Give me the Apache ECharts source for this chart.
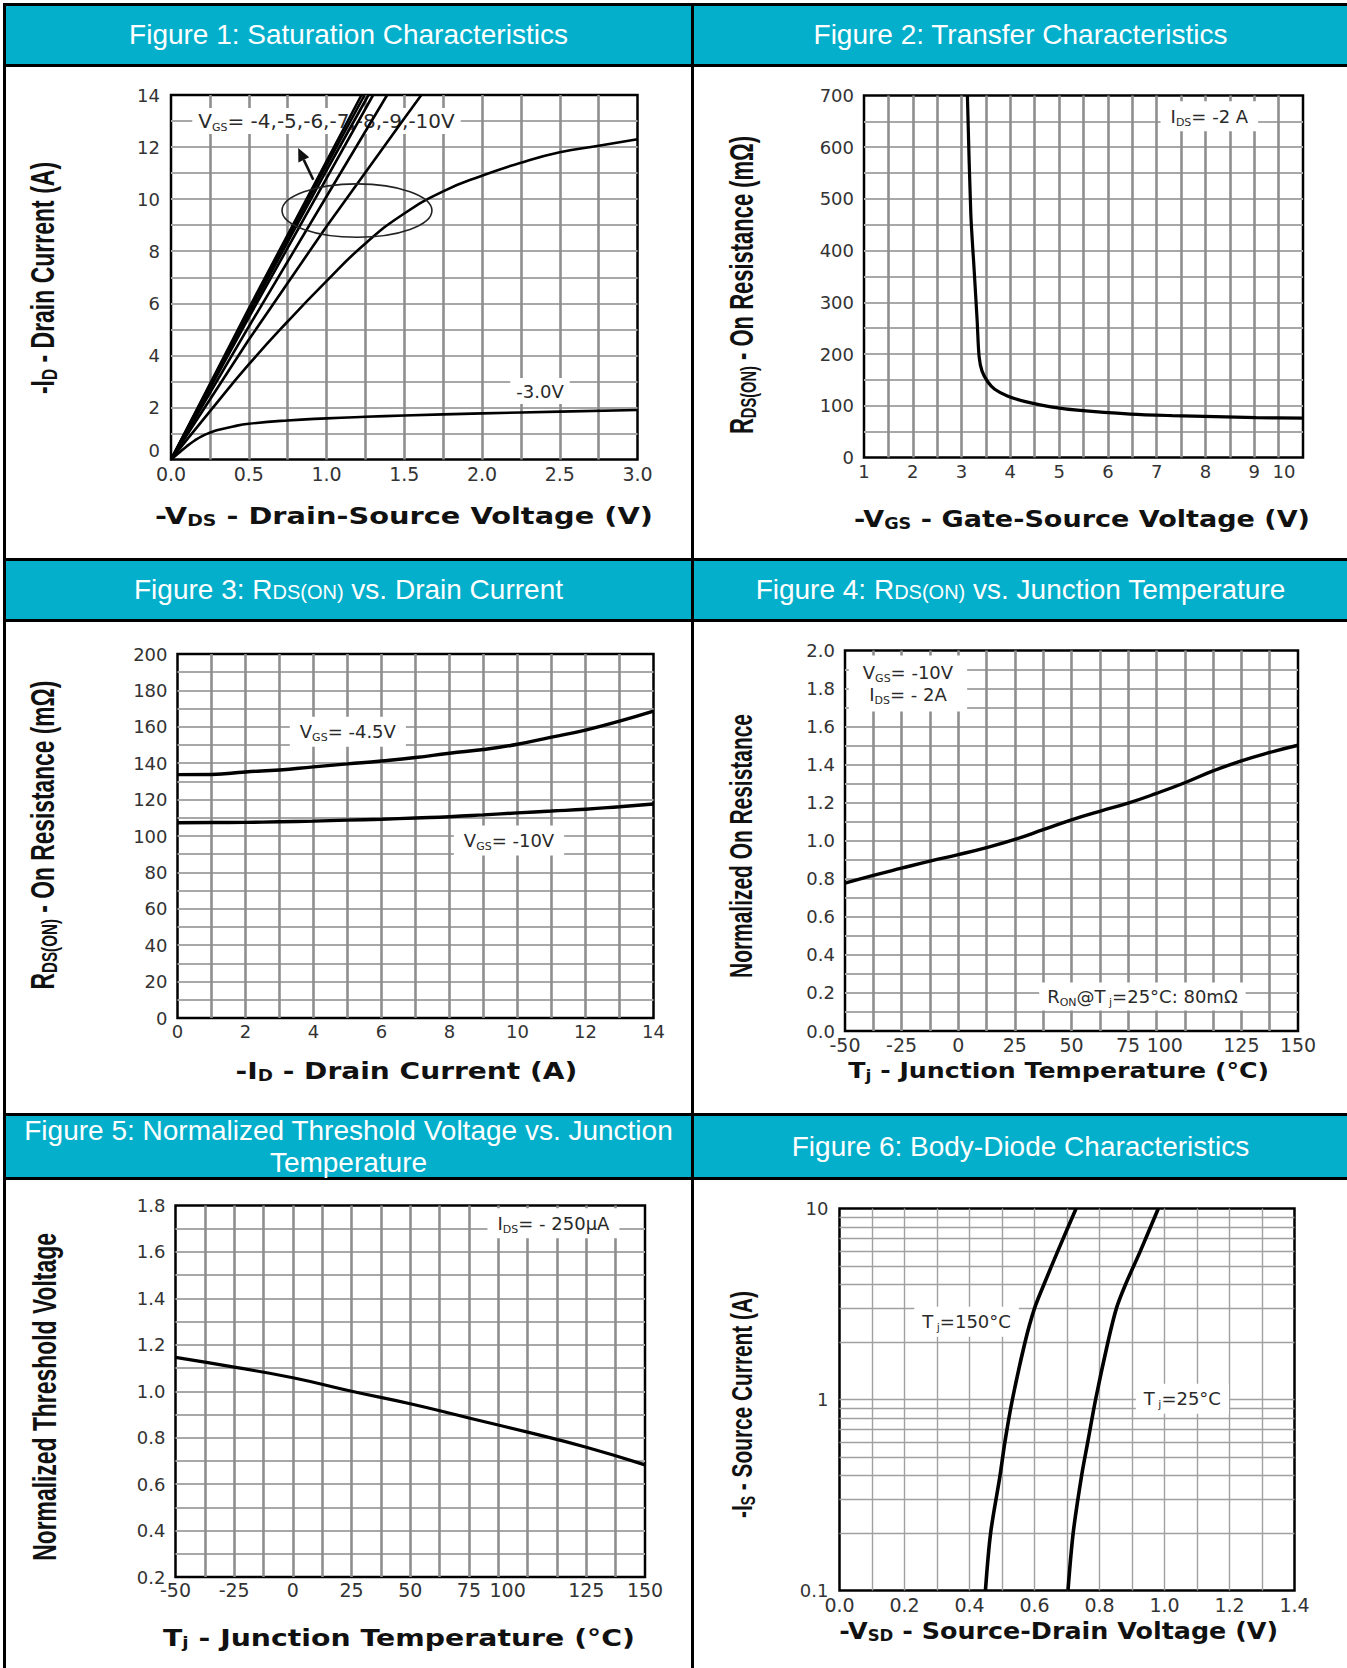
<!DOCTYPE html>
<html><head><meta charset="utf-8">
<script src="https://cdn.jsdelivr.net/npm/echarts@6/dist/echarts.min.js"></script>
<style>
html,body{margin:0;padding:0;background:#fff;}
#page{position:relative;width:1347px;height:1668px;overflow:hidden;background:#fff;}
#chart{position:absolute;left:0;top:0;width:1347px;height:1668px;}
.hdr{position:absolute;background:#03AFCB;color:#fff;font-family:'Liberation Sans',Arial,sans-serif;font-size:28px;display:flex;align-items:center;justify-content:center;text-align:center;line-height:32px;white-space:nowrap;}
.hdr .sub{font-size:20px;position:relative;top:2px;}
.bk{position:absolute;background:#000;}
</style></head>
<body><div id="page">
<div id="chart"></div>
<div class="bk" style="left:3px;top:3px;width:1344px;height:3px"></div>
<div class="bk" style="left:3px;top:3px;width:3px;height:1665px"></div>
<div class="bk" style="left:691px;top:3px;width:3px;height:1665px"></div>
<div class="bk" style="left:3px;top:64px;width:1344px;height:3px"></div>
<div class="bk" style="left:3px;top:558px;width:1344px;height:3px"></div>
<div class="bk" style="left:3px;top:619px;width:1344px;height:3px"></div>
<div class="bk" style="left:3px;top:1113px;width:1344px;height:3px"></div>
<div class="bk" style="left:3px;top:1177px;width:1344px;height:3px"></div>
<div class="hdr" style="left:6px;top:6px;width:685px;height:58px">Figure 1: Saturation Characteristics</div>
<div class="hdr" style="left:694px;top:6px;width:653px;height:58px">Figure 2: Transfer Characteristics</div>
<div class="hdr" style="left:6px;top:561px;width:685px;height:58px">Figure 3: R<span class="sub">DS(ON)</span>&nbsp;vs. Drain Current</div>
<div class="hdr" style="left:694px;top:561px;width:653px;height:58px">Figure 4: R<span class="sub">DS(ON)</span>&nbsp;vs. Junction Temperature</div>
<div class="hdr" style="left:6px;top:1116px;width:685px;height:61px">Figure 5: Normalized Threshold Voltage vs. Junction<br>Temperature</div>
<div class="hdr" style="left:694px;top:1116px;width:653px;height:61px">Figure 6: Body-Diode Characteristics</div>
</div>
<script>
// ---------------- DATA ----------------
// Figure 1: Saturation characteristics (-VDS in V, -ID in A)
const fig1XLabels = ['0.0','0.5','1.0','1.5','2.0','2.5','3.0'];
const fig1YLabels = ['0','2','4','6','8','10','12','14'];
const fig1VdsM3 = [0,0.05,0.1,0.15,0.2,0.25,0.3,0.4,0.5,0.75,1.0,1.25,1.5,2.0,2.5,3.0];
const fig1IdM3  = [0,0.25,0.5,0.72,0.9,1.03,1.13,1.27,1.37,1.5,1.58,1.64,1.69,1.77,1.84,1.9];
const fig1VdsM4 = [0,0.25,0.5,0.75,1.0,1.25,1.5,1.75,2.0,2.25,2.5,2.75,3.0];
const fig1IdM4  = [0,1.85,3.65,5.3,6.85,8.3,9.45,10.3,10.9,11.4,11.8,12.05,12.3];
const fig1VdsM5 = [0,0.5,1.0,1.5,1.61];
const fig1IdM5  = [0,4.6,8.95,13.1,14];
const fig1VdsM6 = [0,0.5,1.0,1.39];
const fig1IdM6  = [0,5.1,10.1,14];
const fig1VdsM7 = [0,0.5,1.0,1.3];
const fig1IdM7  = [0,5.45,10.8,14];
const fig1VdsM8 = [0,0.5,1.0,1.27];
const fig1IdM8  = [0,5.6,11.1,14];
const fig1VdsM9 = [0,0.5,1.0,1.245];
const fig1IdM9  = [0,5.7,11.3,14];
const fig1VdsM10 = [0,0.5,1.0,1.225];
const fig1IdM10  = [0,5.8,11.45,14];

// Figure 2: Transfer characteristics (-VGS in V, RDS(ON) in mOhm)
const fig2XLabels = ['1','2','3','4','5','6','7','8','9','10'];
const fig2YLabels = ['0','100','200','300','400','500','600','700'];
const fig2Vgs = [3.12,3.19,3.26,3.32,3.36,3.42,3.54,3.68,3.94,4.31,4.83,5.43,6.46,7.32,8.2,9.04,10.0];
const fig2R   = [700,471,360,264,195,167,146,132,119,108,98,91,84,81,79,77,76];

// Figure 3: RDS(ON) vs drain current
const fig3XLabels = ['0','2','4','6','8','10','12','14'];
const fig3YLabels = ['0','20','40','60','80','100','120','140','160','180','200'];
const fig3Id    = [0,1,2,3,4,5,6,7,8,9,10,11,12,13,14];
const fig3R45   = [133.7,133.8,135.2,136.3,138,139.6,141.2,143.1,145.5,147.5,150.4,154.3,158.2,163.1,168.6];
const fig3R10   = [107.3,107.4,107.5,107.8,108.2,108.7,109.2,109.9,110.6,111.6,112.7,113.7,114.7,116.1,117.6];

// Figure 4: normalized RDS(ON) vs junction temperature
const fig4XLabels = ['-50','-25','0','25','50','75','100','125','150'];
const fig4YLabels = ['0.0','0.2','0.4','0.6','0.8','1.0','1.2','1.4','1.6','1.8','2.0'];
const fig4Tj = [-50,-37.5,-25,-12.5,0,12.5,25,37.5,50,62.5,75,87.5,100,112.5,125,137.5,150];
const fig4Rn = [0.777,0.818,0.856,0.893,0.927,0.964,1.007,1.058,1.11,1.155,1.198,1.249,1.305,1.367,1.42,1.464,1.502];

// Figure 5: normalized threshold voltage vs junction temperature
const fig5XLabels = ['-50','-25','0','25','50','75','100','125','150'];
const fig5YLabels = ['0.2','0.4','0.6','0.8','1.0','1.2','1.4','1.6','1.8'];
const fig5Tj  = [-50,-25,0,25,50,75,100,125,150];
const fig5Vth = [1.146,1.104,1.058,1.0,0.946,0.885,0.824,0.759,0.683];

// Figure 6: body diode (-VSD in V, -IS in A, log)
const fig6XLabels = ['0.0','0.2','0.4','0.6','0.8','1.0','1.2','1.4'];
const fig6YLabels = ['0.1','1','10'];
const fig6MinorY  = [0.2,0.3,0.4,0.5,0.6,0.7,0.8,0.9,2,3,4,5,6,7,8,9];
const fig6Is      = [0.1,0.2,0.4,0.6,1.0,2.0,3.0,4.0,6.0,10];
const fig6Vsd150  = [0.449,0.465,0.494,0.509,0.532,0.571,0.600,0.629,0.672,0.728];
const fig6Vsd25   = [0.703,0.719,0.745,0.764,0.788,0.826,0.852,0.880,0.926,0.981];

// Axis titles: [text, isSubscript] pieces
const fig1XTitle = [['-V',0],['DS',1],[' - Drain-Source Voltage (V)',0]];
const fig1YTitle = [['-I',0],['D',1],[' - Drain Current (A)',0]];
const fig2XTitle = [['-V',0],['GS',1],[' - Gate-Source Voltage (V)',0]];
const fig2YTitle = [['R',0],['DS(ON)',1],[' - On Resistance (mΩ)',0]];
const fig3XTitle = [['-I',0],['D',1],[' - Drain Current (A)',0]];
const fig3YTitle = [['R',0],['DS(ON)',1],[' - On Resistance (mΩ)',0]];
const fig4XTitle = [['T',0],['j',1],[' - Junction Temperature (°C)',0]];
const fig4YTitle = [['Normalized On Resistance',0]];
const fig5XTitle = [['T',0],['j',1],[' - Junction Temperature (°C)',0]];
const fig5YTitle = [['Normalized Threshold Voltage',0]];
const fig6XTitle = [['-V',0],['SD',1],[' - Source-Drain Voltage (V)',0]];
const fig6YTitle = [['-I',0],['S',1],[' - Source Current (A)',0]];

// ---------------- STYLE / LAYOUT ----------------
const TICK_FONT = "'DejaVu Sans', sans-serif";
const XT_FONT = "'DejaVu Sans', sans-serif";
const YT_FONT = "'Liberation Sans', Arial, sans-serif";
const GV = {color:'#8e8e8e', width:2.6};
const GH = {color:'#a8a8a8', width:2};
const G6 = {color:'#a0a0a0', width:1.4};

// title layout: centre x, centre y, overall length, font size
const TITLE_LAYOUT = [
  {t:fig1XTitle, cx:404,   cy:516,    len:498, size:23, rot:false},
  {t:fig2XTitle, cx:1082,  cy:519,    len:456, size:23, rot:false},
  {t:fig3XTitle, cx:406.5, cy:1071,   len:342, size:23, rot:false},
  {t:fig4XTitle, cx:1058.7,cy:1071,   len:421, size:22, rot:false},
  {t:fig5XTitle, cx:399,   cy:1637.5, len:472, size:23, rot:false},
  {t:fig6XTitle, cx:1058.7,cy:1631,   len:439, size:23, rot:false},
  {t:fig1YTitle, cx:42.5,  cy:278,    len:232, size:33, rot:true},
  {t:fig2YTitle, cx:741.6, cy:285,    len:298, size:33, rot:true},
  {t:fig3YTitle, cx:42.5,  cy:835,    len:309, size:33, rot:true},
  {t:fig4YTitle, cx:741.6, cy:846,    len:264, size:31, rot:true},
  {t:fig5YTitle, cx:44.7,  cy:1397,   len:328, size:33, rot:true},
  {t:fig6YTitle, cx:741.6, cy:1404.5, len:227, size:30, rot:true}
];

function annRich(size) {
  return {
    t:{fontFamily:TICK_FONT, fontSize:size, color:'#2a2a2a', lineHeight:22},
    s:{fontFamily:TICK_FONT, fontSize:11, color:'#2a2a2a', lineHeight:10, padding:[12,0,0,0]}
  };
}
function shiftRich(size, pad) { return {sh:{fontFamily:TICK_FONT, fontSize:size, color:'#333', padding:[0,pad,0,0]}}; }
function shifted(labels, which) { return labels.map(function (s) { return s === which ? '{sh|' + s + '}' : s; }); }

function lbl(labels, size, margin, extra) {
  return Object.assign({
    fontFamily: TICK_FONT, fontSize: size, color:'#333', margin: margin,
    formatter: function (v, i) { return labels[i] !== undefined ? labels[i] : ''; }
  }, extra || {});
}
function axis(gi, o) {
  return Object.assign({
    gridIndex: gi, type:'value',
    axisLine:{show:false}, axisTick:{show:false},
    splitLine:{show:true, showMinLine:false, showMaxLine:false, lineStyle:o.grid},
    minorTick:{show:false, splitNumber:2},
    minorSplitLine:{show:true, lineStyle:o.grid}
  }, o.opt);
}
function pairs(xs, ys) { return xs.map(function (x, k) { return [x, ys[k]]; }); }
function line(gi, xs, ys, w, smooth, extra) {
  return Object.assign({
    type:'line', xAxisIndex:gi, yAxisIndex:gi, data:pairs(xs, ys),
    showSymbol:false, symbol:'none', smooth:smooth,
    lineStyle:{color:'#000', width:w}, itemStyle:{color:'#000'},
    silent:true, animation:false, z:2
  }, extra || {});
}
function note(coord, text, pad, size) {
  return {coord:coord, value:0, symbol:'rect', symbolSize:1, itemStyle:{color:'rgba(0,0,0,0)'},
    label:{show:true, position:'inside', formatter:text, rich:annRich(size || 18), backgroundColor:'#fff', padding:pad || [2,6], lineHeight:22}};
}
function marks(data) { return {z:1, silent:true, animation:false, data:data}; }

const grids = [
  {left:171, top:95, width:466.5, height:364.5},
  {left:864, top:95.5, width:439, height:362},
  {left:177.5, top:654, width:476, height:364},
  {left:845, top:650.5, width:453, height:380.5},
  {left:175.5, top:1205.5, width:469.5, height:371.5},
  {left:839.5, top:1208.5, width:455, height:382}
].map(function (g) { return Object.assign({show:true, borderColor:'#000', borderWidth:2.5, containLabel:false, outerBoundsMode:'none'}, g); });

const xAxes = [
  axis(0, {grid:GV, opt:{min:0, max:3, interval:0.5, axisLabel:lbl(fig1XLabels,19,5)}}),
  axis(1, {grid:GV, opt:{min:1, max:10, interval:1, axisLabel:lbl(shifted(fig2XLabels,'10'),18,5,{rich:shiftRich(18,38)})}}),
  axis(2, {grid:GV, opt:{min:0, max:14, interval:2, axisLabel:lbl(fig3XLabels,18,4)}}),
  axis(3, {grid:GV, opt:{min:-50, max:150, interval:25, axisLabel:lbl(shifted(fig4XLabels,'100'),19,4,{rich:shiftRich(19,40)})}}),
  axis(4, {grid:GV, opt:{min:-50, max:150, interval:25, axisLabel:lbl(shifted(fig5XLabels,'100'),19,3,{rich:shiftRich(19,40)})}}),
  axis(5, {grid:G6, opt:{min:0, max:1.4, interval:0.2, axisLabel:lbl(fig6XLabels,19,5)}})
];
const yAxes = [
  axis(0, {grid:GH, opt:{min:0, max:14, interval:2, axisLabel:lbl(fig1YLabels,18,11,{verticalAlignMinLabel:'bottom'})}}),
  axis(1, {grid:GH, opt:{min:0, max:700, interval:100, axisLabel:lbl(fig2YLabels,18,10)}}),
  axis(2, {grid:GH, opt:{min:0, max:200, interval:20, axisLabel:lbl(fig3YLabels,18,10)}}),
  axis(3, {grid:GH, opt:{min:0, max:2, interval:0.2, axisLabel:lbl(fig4YLabels,18,10)}}),
  axis(4, {grid:GH, opt:{min:0.2, max:1.8, interval:0.2, axisLabel:lbl(fig5YLabels,18,10)}}),
  {gridIndex:5, type:'log', logBase:10, min:0.1, max:10,
    axisLine:{show:false}, axisTick:{show:false},
    splitLine:{show:true, showMinLine:false, showMaxLine:false, lineStyle:G6},
    axisLabel:lbl(fig6YLabels,18,11)}
];

const series = [
  line(0, fig1VdsM3, fig1IdM3, 2.6, true, {markPoint:marks([
    note([1.0, 13.0], '{t|V}{s|GS}{t|= -4,-5,-6,-7,-8,-9,-10V}', [2,6], 20),
    note([2.373, 2.63], '{t|-3.0V}', [2,6], 18)
  ])}),
  line(0, fig1VdsM4, fig1IdM4, 2.6, true),
  line(0, fig1VdsM5, fig1IdM5, 2.6, false),
  line(0, fig1VdsM6, fig1IdM6, 2.6, false),
  line(0, fig1VdsM7, fig1IdM7, 2.6, false),
  line(0, fig1VdsM8, fig1IdM8, 2.6, false),
  line(0, fig1VdsM9, fig1IdM9, 2.6, false),
  line(0, fig1VdsM10, fig1IdM10, 2.6, false),
  line(1, fig2Vgs, fig2R, 3.2, 0.3, {markPoint:marks([
    note([8.08, 660], '{t|I}{s|DS}{t|= -2 A}', [4,10])
  ])}),
  line(2, fig3Id, fig3R45, 3.4, true, {markPoint:marks([
    note([5.01, 157.3], '{t|V}{s|GS}{t|= -4.5V}', [4,10]),
    note([9.75, 97.5], '{t|V}{s|GS}{t|= -10V}', [4,10])
  ])}),
  line(2, fig3Id, fig3R10, 3.4, true),
  line(3, fig4Tj, fig4Rn, 3.4, true, {markPoint:marks([
    note([-22.2, 1.826], '{t|V}{s|GS}{t|= -10V}\n{t|I}{s|DS}{t|= - 2A}', [6,14]),
    note([81.3, 0.181], '{t|R}{s|ON}{t|@T}{s| j}{t|=25°C: 80mΩ}', [3,8])
  ])}),
  line(4, fig5Tj, fig5Vth, 3.2, true, {markPoint:marks([
    note([111, 1.724], '{t|I}{s|DS}{t|= - 250µA}', [4,10])
  ])}),
  line(5, fig6Vsd150, fig6Is, 3.6, 0.3, {
    markLine:{silent:true, z:1, animation:false, symbol:['none','none'], label:{show:false},
      lineStyle:{color:G6.color, width:G6.width, type:'solid'},
      data:fig6MinorY.map(function (v) { return {yAxis:v}; })},
    markPoint:marks([
      note([0.391, 2.55], '{t|T}{s| j}{t|=150°C}', [4,8]),
      note([1.055, 1.01], '{t|T}{s| j}{t|=25°C}', [4,8])
    ])}),
  line(5, fig6Vsd25, fig6Is, 3.6, 0.3)
];

const chart = echarts.init(document.getElementById('chart'), null, {renderer:'svg', width:1347, height:1668});
chart.setOption({animation:false, backgroundColor:'transparent', grid:grids, xAxis:xAxes, yAxis:yAxes, series:series});

// ---- axis titles as text elements, fitted to the reference lengths ----
const mctx = document.createElement('canvas').getContext('2d');
function titleEl(L) {
  const family = L.rot ? YT_FONT : XT_FONT;
  const size = L.size, sub = Math.round(size * 0.66);
  let w = 0;
  L.t.forEach(function (p) { mctx.font = 'bold ' + (p[1] ? sub : size) + 'px ' + family; w += mctx.measureText(p[0]).width; });
  const text = L.t.map(function (p) { return '{' + (p[1] ? 's' : 'a') + '|' + p[0] + '}'; }).join('');
  return {type:'text', silent:true, z:10, x:L.cx, y:L.cy, rotation: L.rot ? Math.PI / 2 : 0, scaleX: L.len / w, scaleY: 1,
    style:{text:text, align:'center', verticalAlign:'middle',
      rich:{a:{fontFamily:family, fontWeight:'bold', fontSize:size, fill:'#111', lineHeight:size + 4},
            s:{fontFamily:family, fontWeight:'bold', fontSize:sub, fill:'#111', lineHeight:sub, padding:[Math.round(size * 0.42),0,0,0]}}}};
}
const titleEls = TITLE_LAYOUT.map(titleEl);

// Figure 1 annotation shapes (ellipse round the VGS curves + arrow), placed in data coordinates
const fig1Ellipse = {cx:1.196, cy:9.56, rx:0.482, ry:1.025};
const fig1Arrow = {from:[0.915, 10.745], to:[0.818, 11.96]};
const f = {xAxisIndex:0, yAxisIndex:0};
const c0 = chart.convertToPixel(f, [fig1Ellipse.cx, fig1Ellipse.cy]);
const c1 = chart.convertToPixel(f, [fig1Ellipse.cx + fig1Ellipse.rx, fig1Ellipse.cy + fig1Ellipse.ry]);
const a0 = chart.convertToPixel(f, fig1Arrow.from);
const a1 = chart.convertToPixel(f, fig1Arrow.to);
const dx = a1[0]-a0[0], dy = a1[1]-a0[1], L0 = Math.sqrt(dx*dx+dy*dy), ux = dx/L0, uy = dy/L0;
const hl = 13, hw = 6;
const base = [a1[0]-ux*hl, a1[1]-uy*hl];
chart.setOption({graphic:{elements:[
  {type:'ellipse', silent:true, z:3, shape:{cx:c0[0], cy:c0[1], rx:Math.abs(c1[0]-c0[0]), ry:Math.abs(c1[1]-c0[1])},
    style:{fill:null, stroke:'#222', lineWidth:1.6}},
  {type:'line', silent:true, z:3, shape:{x1:a0[0], y1:a0[1], x2:base[0], y2:base[1]}, style:{stroke:'#111', lineWidth:2.6}},
  {type:'polygon', silent:true, z:3, shape:{points:[[a1[0],a1[1]],[base[0]-uy*hw, base[1]+ux*hw],[base[0]+uy*hw, base[1]-ux*hw]]}, style:{fill:'#111'}}
].concat(titleEls)}});
</script>
</body></html>
